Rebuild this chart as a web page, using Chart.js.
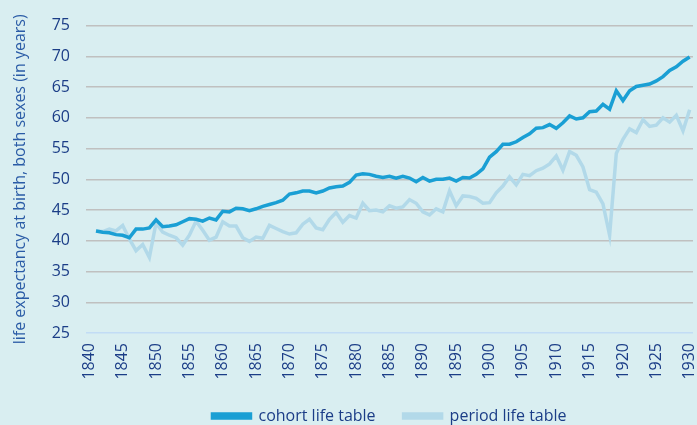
<!DOCTYPE html>
<html>
<head>
<meta charset="utf-8">
<script src="https://cdn.jsdelivr.net/npm/chart.js@4"></script>
<style>
	html, body { margin: 0; padding: 0; background: #d9eef1; overflow: hidden; }
	#wrap { width: 697px; height: 425px; position: relative; }
</style>
</head>
<body>
<div id="wrap"><canvas id="chartjs_life"></canvas></div>
<script>
// years 1840..1930, first data point is 1841
const years = [];
for (let y = 1840; y <= 1930; y++) years.push(String(y));

const cohortLife = [null,
	41.6, 41.4, 41.3, 41.0, 40.9, 40.5, 41.9, 41.9, 42.1, 43.4,
	42.3, 42.4, 42.6, 43.1, 43.6, 43.5, 43.2, 43.7, 43.4, 44.8,
	44.7, 45.3, 45.2, 44.9, 45.2, 45.6, 45.9, 46.2, 46.6, 47.6,
	47.8, 48.1, 48.1, 47.8, 48.1, 48.6, 48.8, 48.9, 49.5, 50.7,
	50.9, 50.8, 50.5, 50.3, 50.5, 50.2, 50.5, 50.2, 49.6, 50.3,
	49.7, 50.0, 50.0, 50.2, 49.7, 50.3, 50.2, 50.8, 51.7, 53.6,
	54.5, 55.7, 55.7, 56.1, 56.8, 57.4, 58.3, 58.4, 58.9, 58.3,
	59.2, 60.3, 59.8, 60.0, 61.0, 61.1, 62.2, 61.4, 64.4, 62.8,
	64.4, 65.1, 65.3, 65.5, 66.0, 66.7, 67.7, 68.3, 69.2, 69.9
];

const periodLife = [null,
	41.6, 41.5, 41.9, 41.6, 42.5, 40.3, 38.4, 39.4, 37.3, 42.9,
	41.4, 40.9, 40.5, 39.3, 40.9, 43.2, 41.7, 40.1, 40.6, 43.1,
	42.4, 42.4, 40.5, 39.9, 40.6, 40.4, 42.5, 42.0, 41.5, 41.1,
	41.3, 42.7, 43.5, 42.1, 41.8, 43.5, 44.6, 43.0, 44.1, 43.7,
	46.1, 44.9, 45.0, 44.7, 45.7, 45.3, 45.5, 46.7, 46.1, 44.7,
	44.2, 45.2, 44.7, 48.1, 45.7, 47.3, 47.2, 46.9, 46.1, 46.2,
	47.8, 48.9, 50.4, 49.1, 50.8, 50.6, 51.4, 51.8, 52.5, 53.8,
	51.5, 54.5, 53.9, 52.0, 48.3, 47.9, 46.0, 40.9, 54.2, 56.5,
	58.2, 57.6, 59.7, 58.6, 58.8, 60.0, 59.3, 60.4, 57.9, 61.3
];

const yTicks = [25, 30, 35, 40, 45, 50, 55, 60, 65, 70, 75];
const yTitle = 'life expectancy at birth, both sexes (in years)';

// vertical year labels, every 5th category, placed by the x scale
const yearLabels = {
	id: 'yearLabels',
	afterDraw(chart) {
		const s = chart.scales.x;
		const ctx = chart.ctx;
		ctx.save();
		ctx.font = '16px "Open Sans"';
		ctx.fillStyle = '#1b3d87';
		ctx.textAlign = 'right';
		ctx.textBaseline = 'middle';
		years.forEach((y, i) => {
			if (Number(y) % 5 !== 0) return;
			ctx.save();
			ctx.translate(s.getPixelForTick(i), s.top + 10);
			ctx.rotate(-Math.PI / 2);
			ctx.fillText(y, 0, 0);
			ctx.restore();
		});
		ctx.restore();
	}
};

document.addEventListener("DOMContentLoaded", function () {
	new Chart(document.getElementById("chartjs_life"), {
		type: 'line',
		plugins: [yearLabels],
		data: {
			labels: years,
			datasets: [
				{
					label: 'cohort life table',
					data: cohortLife,
					borderColor: '#1a9fd4',
					backgroundColor: '#1a9fd4',
					borderWidth: 3.5,
					pointRadius: 0
				},
				{
					label: 'period life table',
					data: periodLife,
					borderColor: '#b2d9e9',
					backgroundColor: '#b2d9e9',
					borderWidth: 3.5,
					pointRadius: 0
				}
			]
		},
		options: {
			responsive: true,
			maintainAspectRatio: false,
			animation: false,
			layout: {
				padding: { left: 11, right: 4, top: 25, bottom: -9 }
			},
			plugins: {
				tooltip: { enabled: false },
				legend: {
					position: 'bottom',
					fullSize: false,
					labels: {
						boxWidth: 38,
						boxHeight: 4,
						padding: 28,
						color: '#1b3d87',
						font: { family: 'Open Sans', size: 16 }
					}
				}
			},
			scales: {
				x: {
					offset: true,
					grid: { display: false },
					border: { display: false },
					afterFit: (s) => { s.height = 47; s.paddingLeft = 0; s.paddingRight = 0; },
					ticks: {
						display: false,
						autoSkip: false
					}
				},
				y: {
					min: yTicks[0],
					max: yTicks[yTicks.length - 1],
					afterFit: (s) => { s.width = 75; },
					afterBuildTicks: (s) => { s.ticks = yTicks.map((v) => ({ value: v })); },
					ticks: {
						padding: 16,
						color: '#1b3d87',
						font: { family: 'Open Sans', size: 16 }
					},
					border: { display: false },
					grid: {
						drawTicks: false,
						lineWidth: 1.5,
						color: (c) => c.tick && c.tick.value === 25 ? '#c2dcf5' : '#c0c0c0'
					},
					title: {
						display: true,
						text: yTitle,
						color: '#2a5ba6',
						padding: { top: 0, bottom: 0 },
						font: { family: 'Open Sans', size: 16 }
					}
				}
			}
		}
	});
});
</script>
</body>
</html>
